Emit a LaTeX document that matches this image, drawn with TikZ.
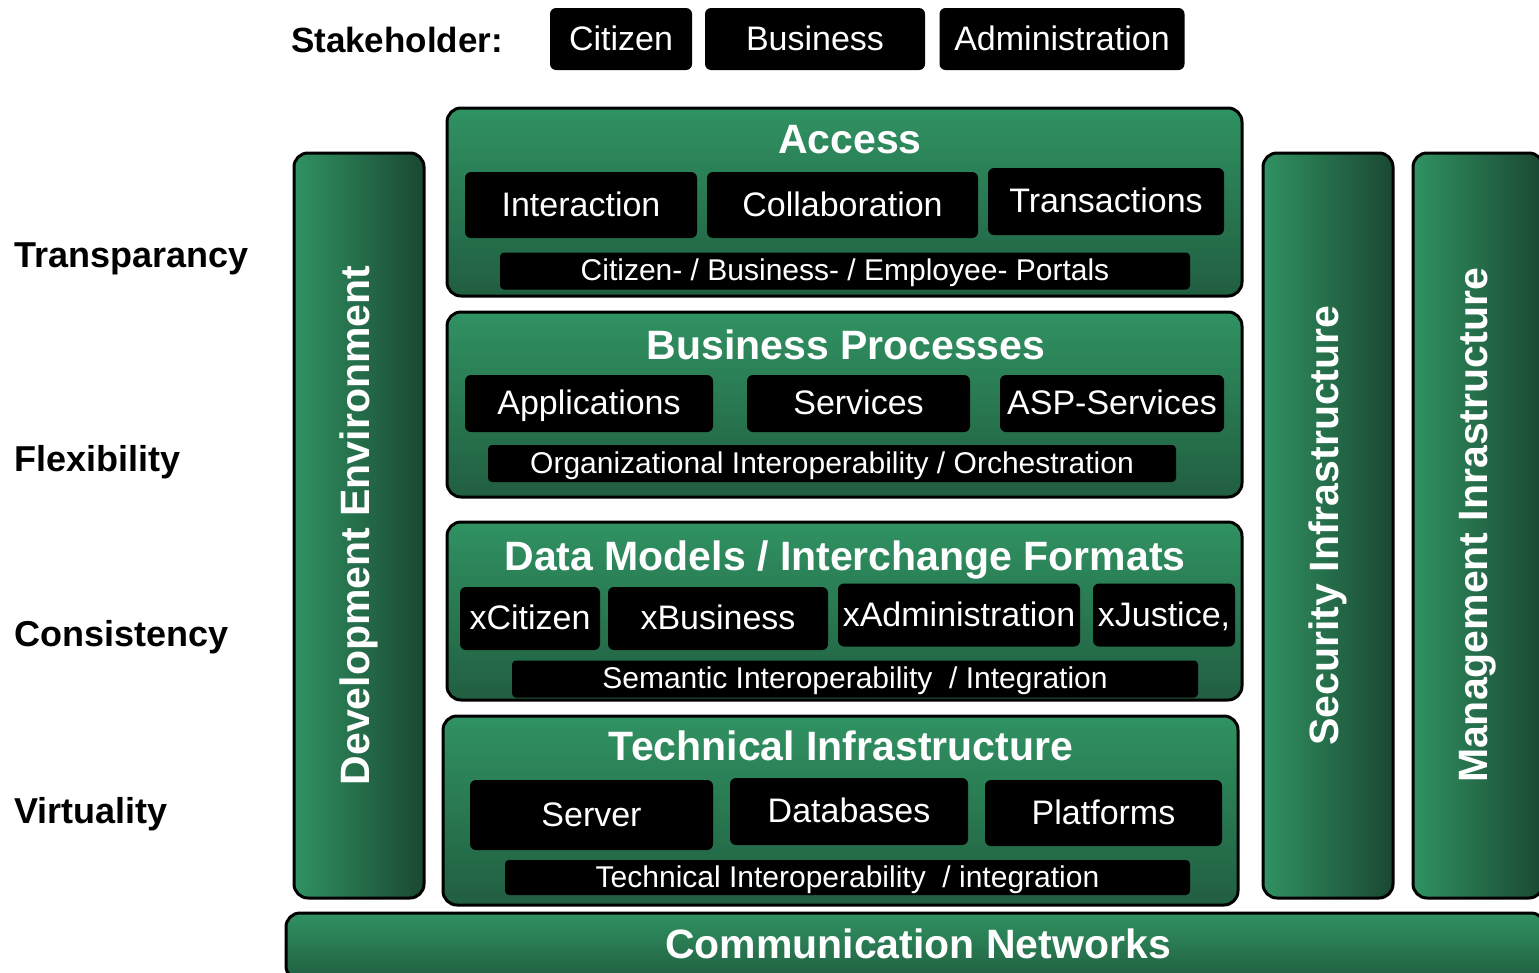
\documentclass[tikz,border=0pt]{standalone}
\usepackage{fontspec}
\setmainfont{Liberation Sans}
\definecolor{gLight}{RGB}{48,146,98}
\definecolor{gDark}{RGB}{26,72,50}

\begin{document}
\begin{tikzpicture}[x=1pt,y=-1pt,
    layer/.style={draw=black,line width=3pt,rounded corners=14pt,top color=gLight,bottom color=gDark!70!gLight,minimum width=795pt,inner sep=0pt},
    pillar/.style={draw=black,line width=3pt,rounded corners=14pt,left color=gLight,right color=gDark,minimum width=130pt,minimum height=745pt,inner sep=0pt},
    blackbox/.style={fill=black,rounded corners=6pt,text=white,inner sep=0pt,text height=26pt,text depth=4pt,font=\fontsize{34}{38}\selectfont},
    barbox/.style={fill=black,rounded corners=4pt,text=white,inner sep=0pt,minimum height=37pt,text height=22pt,text depth=3pt,font=\fontsize{30}{34}\selectfont},
    title/.style={text=white,font=\fontsize{41}{45}\selectfont\bfseries},
    sidelabel/.style={anchor=west,inner sep=0pt,yshift=-4pt,font=\fontsize{36}{40}\selectfont\bfseries}]
       \useasboundingbox (0,0) rectangle (1539,972);
       \pgfmathsetmacro{\layerx}{844.5}

       %draw stakeholders
       \node[font=\fontsize{35}{39}\selectfont\bfseries] (stakeholder) at (397,40) {Stakeholder:};
       \node[blackbox,minimum width=142pt,minimum height=62pt] (citizen) at (621,39) {Citizen};
       \node[blackbox,minimum width=220pt,minimum height=62pt] (business) at (815,39) {Business};
       \node[blackbox,minimum width=245pt,minimum height=62pt] (administration) at (1062,39) {Administration};

       %draw side labels
       \foreach \lbl/\yy in {Transparancy/255,Flexibility/458,Consistency/633,Virtuality/810}{
           \node[sidelabel] (side\lbl) at (14,\yy) {\lbl};
       }

       %draw pillars
       \foreach \name/\xx/\txt in {devenv/359/Development Environment,security/1328/Security Infrastructure,management/1478/Management Inrastructure}{
           \node[pillar] (\name) at (\xx,525.5) {};
           \node[title,rotate=90] (\name text) at (\name.center) {\txt};
       }

       %draw access layer
       \node[layer,minimum height=188pt] (access) at (\layerx,202) {};
       \node[title] (accesstitle) at (850,140) {Access};
       \node[blackbox,minimum width=232pt,minimum height=66pt] (interaction) at (581,205) {Interaction};
       \node[blackbox,minimum width=271pt,minimum height=66pt] (collaboration) at (842.5,205) {Collaboration};
       \node[blackbox,minimum width=236pt,minimum height=67pt] (transactions) at (1106,201.5) {Transactions};
       \node[barbox,minimum width=690pt] (portals) at (845,271) {Citizen- / Business- / Employee- Portals};

       %draw business process layer
       \node[layer,minimum height=185pt] (process) at (\layerx,404.5) {};
       \node[title] (processtitle) at (846,345) {Business Processes};
       \node[blackbox,minimum width=248pt,minimum height=57pt] (applications) at (589,403.5) {Applications};
       \node[blackbox,minimum width=223pt,minimum height=57pt] (services) at (858.5,403.5) {Services};
       \node[blackbox,minimum width=224pt,minimum height=57pt] (aspservices) at (1112,403.5) {ASP-Services};
       \node[barbox,minimum width=688pt] (orchestration) at (832,463.5) {Organizational Interoperability / Orchestration};

       %draw data layer
       \node[layer,minimum height=178pt] (data) at (\layerx,611) {};
       \node[title] (datatitle) at (845,560) {Data Models / Interchange Formats};
       \node[blackbox,minimum width=140pt,minimum height=63pt] (xcitizen) at (530,618.5) {xCitizen};
       \node[blackbox,minimum width=220pt,minimum height=63pt] (xbusiness) at (718,618.5) {xBusiness};
       \node[blackbox,minimum width=242pt,minimum height=63pt] (xadministration) at (959,615) {xAdministration};
       \node[blackbox,minimum width=142pt,minimum height=63pt] (xjustice) at (1164,615) {xJustice,};
       \node[barbox,minimum width=686pt] (integration) at (855,679) {Semantic Interoperability~~/ Integration};

       %draw technical layer
       \node[layer,minimum height=189pt] (technical) at (840.5,810.5) {};
       \node[title] (technicaltitle) at (841,746) {Technical Infrastructure};
       \node[blackbox,minimum width=243pt,minimum height=70pt] (server) at (591.5,815) {Server};
       \node[blackbox,minimum width=238pt,minimum height=67pt] (databases) at (849,811.5) {Databases};
       \node[blackbox,minimum width=237pt,minimum height=66pt] (platforms) at (1103.5,813) {Platforms};
       \node[barbox,minimum width=685pt,minimum height=35pt] (techinterop) at (847.5,877.5) {Technical Interoperability~~/ integration};

       %draw network bar
       \node[layer,minimum width=1259pt,minimum height=67pt] (networks) at (915.5,946.5) {};
       \node[title] (networkstitle) at (918,944) {Communication Networks};

\end{tikzpicture}
\end{document}
